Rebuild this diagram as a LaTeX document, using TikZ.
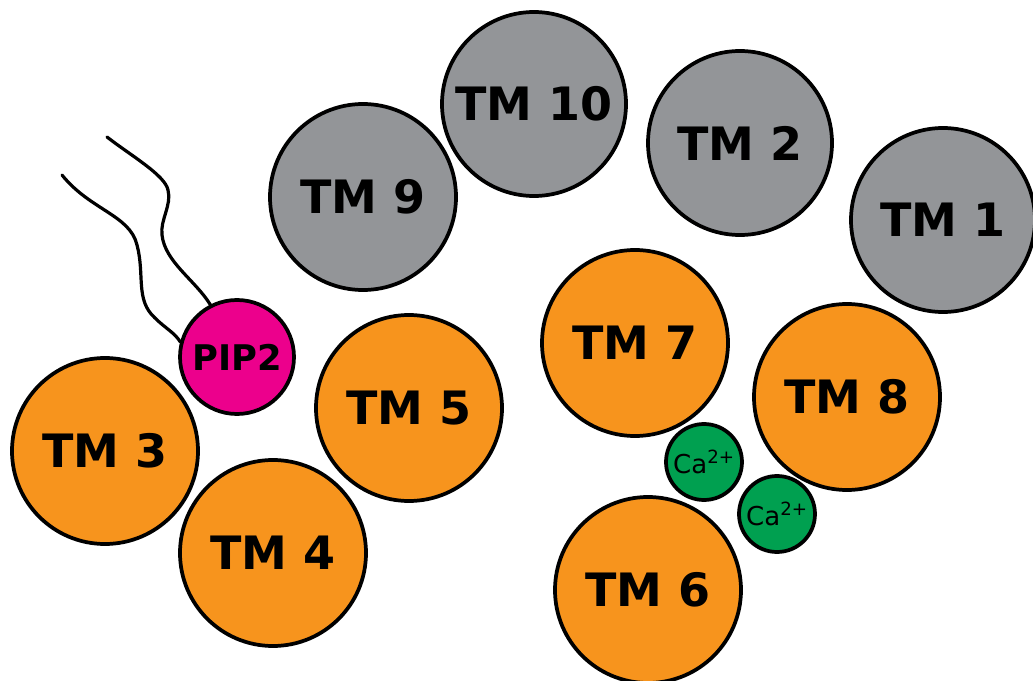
\documentclass[tikz,border=0pt]{standalone}
\usepackage{fontspec}
\setmainfont{DejaVu Sans}
\definecolor{tmorange}{RGB}{247,148,29}
\definecolor{tmgray}{RGB}{147,149,152}
\definecolor{pipmag}{RGB}{236,0,140}
\definecolor{cagreen}{RGB}{0,160,80}
\newlength{\pxu}
\setlength{\pxu}{0.75pt}
\tikzset{
  helix/.style={circle, draw=black, line width=2.8pt, inner sep=0pt, minimum size=186\pxu, font=\fontsize{34.5}{38}\selectfont\bfseries},
  orangehelix/.style={helix, fill=tmorange},
  grayhelix/.style={helix, fill=tmgray},
  pipnode/.style={circle, draw=black, line width=2.8pt, fill=pipmag, inner sep=0pt, minimum size=114\pxu, font=\fontsize{26.5}{29}\selectfont\bfseries},
  canode/.style={circle, draw=black, line width=2.8pt, fill=cagreen, inner sep=0pt, minimum size=76\pxu, font=\fontsize{19.5}{22}\selectfont},
  tail/.style={line width=2.4pt, line cap=round}
}
\begin{document}
\begin{tikzpicture}[x=0.75pt,y=-0.75pt]
\useasboundingbox (0,0) rectangle (1033,681);
% lipid tails
\coordinate (t1s) at (62,175);
\coordinate (t2s) at (107,137);
\node[pipnode] (pip) at (237,357) {PIP2};
\draw[tail] (t1s) .. controls (90,210) and (130,215) .. (137,245)
  .. controls (145,275) and (135,300) .. (155,318)
  .. controls (165,328) and (175,333) .. (pip.165);
\draw[tail] (t2s) .. controls (130,155) and (165,175) .. (168,190)
  .. controls (172,205) and (160,220) .. (162,235)
  .. controls (165,262) and (195,280) .. (pip.117);
% gray helices
\node[grayhelix] (tm9) at (363,197) {TM 9};
\node[grayhelix, minimum size=184\pxu] (tm10) at (534,104) {TM 10};
\node[grayhelix, minimum size=184\pxu] (tm2) at (740,143) {TM 2};
\node[grayhelix, minimum size=184\pxu] (tm1) at (943,220) {TM 1};
% orange helices
\node[orangehelix] (tm7) at (635,343) {TM 7};
\node[orangehelix] (tm8) at (847,397) {TM 8};
\node[orangehelix] (tm5) at (409,408) {TM 5};
\node[orangehelix] (tm3) at (105,451) {TM 3};
\node[orangehelix] (tm4) at (273,553) {TM 4};
\node[orangehelix] (tm6) at (648,590) {TM 6};
% calcium
\node[canode] (ca1) at (704,462) {Ca\textsuperscript{2+}};
\node[canode] (ca2) at (777,514) {Ca\textsuperscript{2+}};
\end{tikzpicture}
\end{document}
